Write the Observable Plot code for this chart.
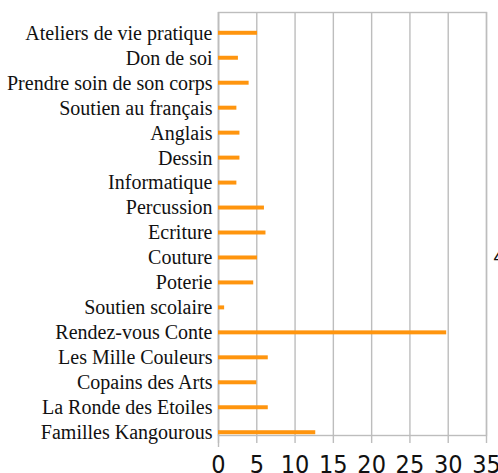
<!DOCTYPE html>
<html><head><meta charset="utf-8">
<script src="https://cdn.jsdelivr.net/npm/d3@7"></script>
<script src="https://cdn.jsdelivr.net/npm/@observablehq/plot@0.6"></script>
<style>body{margin:0;background:#fff;} svg{overflow:visible;display:block}</style>
</head><body><div id="chart"></div>
<script>
const categories = [
  "Ateliers de vie pratique",
  "Don de soi",
  "Prendre soin de son corps",
  "Soutien au français",
  "Anglais",
  "Dessin",
  "Informatique",
  "Percussion",
  "Ecriture",
  "Couture",
  "Poterie",
  "Soutien scolaire",
  "Rendez-vous Conte",
  "Les Mille Couleurs",
  "Copains des Arts",
  "La Ronde des Etoiles",
  "Familles Kangourous"
];
const values = [5.1, 2.6, 4.0, 2.4, 2.8, 2.8, 2.4, 6.0, 6.2, 5.1, 4.6, 0.8, 29.8, 6.5, 5.0, 6.5, 12.7];
const xTicks = [0, 5, 10, 15, 20, 25, 30, 35];
const sideText = ["4"];

const data = categories.map((c, i) => ({activite: c, valeur: values[i]}));
const gridColor = "#bdbdbd";

const chart = Plot.plot({
  width: 498,
  height: 473,
  marginLeft: 218,
  marginRight: 12,
  marginTop: 12,
  marginBottom: 38,
  x: {domain: [0, 35], ticks: xTicks, label: null},
  y: {domain: categories, range: [20.3, 444.7], padding: 0, round: false, label: null},
  marks: [
    Plot.gridX(xTicks, {stroke: gridColor, strokeOpacity: 1, strokeWidth: 1.4}),
    Plot.frame({stroke: gridColor, strokeWidth: 1.4}),
    Plot.ruleX([0], {stroke: gridColor, strokeWidth: 1.4, insetBottom: -12}),
    Plot.axisX(xTicks, {tickSize: 8, tickPadding: 12, stroke: gridColor, strokeWidth: 1.4, fill: "#111",
      fontSize: 25, fontFamily: "'Liberation Sans Narrow', 'DejaVu Sans Condensed', sans-serif", label: null}),
    Plot.axisY({tickSize: 0, tickPadding: 6, fill: "#111", fontSize: 20,
      fontFamily: "'Liberation Serif', serif", label: null}),
    Plot.barX(data, {x: "valeur", y: "activite", fill: "#ff950e", insetTop: 10.5, insetBottom: 10.5}),
    Plot.text(sideText, {frameAnchor: "right", dx: 7, dy: 33, textAnchor: "start", fontSize: 20,
      fontFamily: "'Liberation Sans', sans-serif", fill: "#111"})
  ]
});
document.getElementById("chart").appendChild(chart);
</script>
</body></html>
